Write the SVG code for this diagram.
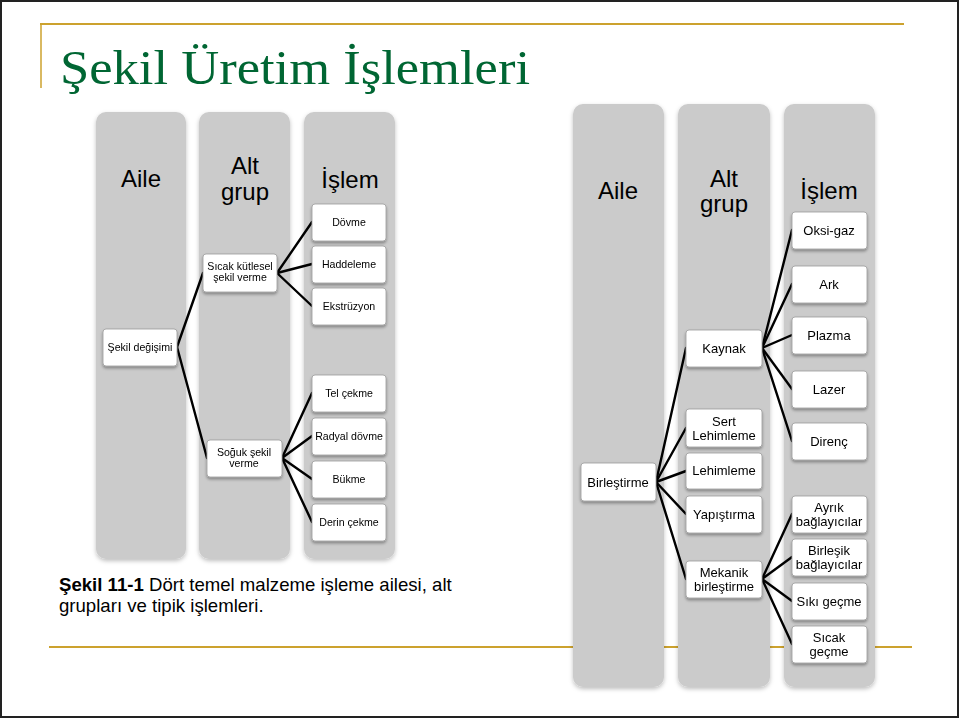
<svg xmlns="http://www.w3.org/2000/svg" width="960" height="719" viewBox="0 0 960 719">
<style>
.col{fill:#cbcbcb}
.nd{fill:#fff;stroke:#9a9a9a;stroke-width:0.8}
.hd{font-family:"Liberation Sans",Arial,sans-serif;font-size:24px;fill:#000;text-anchor:middle}
.s{font-family:"Liberation Sans",Arial,sans-serif;font-size:10.6px;fill:#000;text-anchor:middle}
.m{font-family:"Liberation Sans",Arial,sans-serif;font-size:13px;fill:#000;text-anchor:middle}
.gold{stroke:#cca22e;fill:none}
#connectors line{stroke:#000;stroke-width:2.4;stroke-linecap:round}
</style>
<defs>
<filter id="sh" x="-20%" y="-20%" width="140%" height="140%">
<feDropShadow dx="0" dy="2" stdDeviation="1.5" flood-color="#000" flood-opacity="0.35"/>
</filter>
<filter id="shc" x="-10%" y="-5%" width="120%" height="110%">
<feDropShadow dx="0" dy="2" stdDeviation="2" flood-color="#000" flood-opacity="0.25"/>
</filter>
</defs>
<rect x="0" y="0" width="960" height="719" fill="#fff"/>
<rect x="1" y="1" width="957" height="716" fill="none" stroke="#222" stroke-width="2"/>
<line class="gold" x1="40" y1="24" x2="904" y2="24" stroke-width="2.2"/>
<line class="gold" x1="41" y1="24" x2="41" y2="88" stroke-width="1.5"/>
<line class="gold" x1="49" y1="647" x2="912" y2="647" stroke-width="2.2"/>
<text x="60" y="84" font-family="'Liberation Serif','Times New Roman',serif" font-size="48" fill="#006633" textLength="470" lengthAdjust="spacingAndGlyphs">Şekil Üretim İşlemleri</text>

<g id="columns" filter="url(#shc)">
<rect class="col" x="96" y="112" width="90" height="447" rx="10"/>
<rect class="col" x="199" y="112" width="91" height="447" rx="10"/>
<rect class="col" x="304" y="112" width="91" height="447" rx="10"/>
<rect class="col" x="573" y="104" width="91" height="583" rx="10"/>
<rect class="col" x="678" y="104" width="92" height="583" rx="10"/>
<rect class="col" x="784" y="104" width="91" height="583" rx="10"/>
</g>
<g id="headers">
<text class="hd" x="141" y="187">Aile</text>
<text class="hd" x="245" y="174">Alt</text>
<text class="hd" x="245" y="200">grup</text>
<text class="hd" x="350" y="188">İşlem</text>
<text class="hd" x="618" y="199">Aile</text>
<text class="hd" x="724" y="187">Alt</text>
<text class="hd" x="724" y="212">grup</text>
<text class="hd" x="829" y="199">İşlem</text>
</g>

<g id="connectors">
<line x1="177" y1="347" x2="203" y2="273"/>
<line x1="177" y1="347" x2="207" y2="458"/>
<line x1="277" y1="273" x2="312" y2="222"/>
<line x1="277" y1="273" x2="312" y2="264"/>
<line x1="277" y1="273" x2="312" y2="306"/>
<line x1="282" y1="458" x2="312" y2="393"/>
<line x1="282" y1="458" x2="312" y2="436"/>
<line x1="282" y1="458" x2="312" y2="479"/>
<line x1="282" y1="458" x2="312" y2="522"/>
<line x1="656" y1="482" x2="686" y2="348"/>
<line x1="656" y1="482" x2="686" y2="428"/>
<line x1="656" y1="482" x2="686" y2="471"/>
<line x1="656" y1="482" x2="686" y2="514"/>
<line x1="656" y1="482" x2="686" y2="579"/>
<line x1="762" y1="348" x2="792" y2="230"/>
<line x1="762" y1="348" x2="792" y2="284"/>
<line x1="762" y1="348" x2="792" y2="335"/>
<line x1="762" y1="348" x2="792" y2="389"/>
<line x1="762" y1="348" x2="792" y2="441"/>
<line x1="762" y1="579" x2="792" y2="514"/>
<line x1="762" y1="579" x2="792" y2="557"/>
<line x1="762" y1="579" x2="792" y2="601"/>
<line x1="762" y1="579" x2="792" y2="644"/>
</g>

<g id="n-sekil-degisimi" filter="url(#sh)"><rect class="nd" x="103" y="329" width="74" height="37" rx="3"/><text class="s" x="140" y="351">Şekil değişimi</text></g>
<g id="n-sicak-kutlesel" filter="url(#sh)"><rect class="nd" x="203" y="254" width="74" height="38" rx="3"/><text class="s" x="240" y="270">Sıcak kütlesel</text><text class="s" x="240" y="281">şekil verme</text></g>
<g id="n-soguk" filter="url(#sh)"><rect class="nd" x="207" y="440" width="75" height="37" rx="3"/><text class="s" x="244" y="456">Soğuk şekil</text><text class="s" x="244" y="467">verme</text></g>
<g id="n-dovme" filter="url(#sh)"><rect class="nd" x="312" y="204" width="74" height="37" rx="3"/><text class="s" x="349" y="226">Dövme</text></g>
<g id="n-haddeleme" filter="url(#sh)"><rect class="nd" x="312" y="246" width="74" height="37" rx="3"/><text class="s" x="349" y="268">Haddeleme</text></g>
<g id="n-ekstruzyon" filter="url(#sh)"><rect class="nd" x="312" y="288" width="74" height="37" rx="3"/><text class="s" x="349" y="310">Ekstrüzyon</text></g>
<g id="n-tel-cekme" filter="url(#sh)"><rect class="nd" x="312" y="375" width="74" height="37" rx="3"/><text class="s" x="349" y="397">Tel çekme</text></g>
<g id="n-radyal-dovme" filter="url(#sh)"><rect class="nd" x="312" y="418" width="74" height="37" rx="3"/><text class="s" x="349" y="440">Radyal dövme</text></g>
<g id="n-bukme" filter="url(#sh)"><rect class="nd" x="312" y="461" width="74" height="37" rx="3"/><text class="s" x="349" y="483">Bükme</text></g>
<g id="n-derin-cekme" filter="url(#sh)"><rect class="nd" x="312" y="504" width="74" height="37" rx="3"/><text class="s" x="349" y="526">Derin çekme</text></g>

<g id="n-birlestirme" filter="url(#sh)"><rect class="nd" x="581" y="463" width="75" height="38" rx="3"/><text class="m" x="618" y="487">Birleştirme</text></g>
<g id="n-kaynak" filter="url(#sh)"><rect class="nd" x="686" y="330" width="76" height="37" rx="3"/><text class="m" x="724" y="353">Kaynak</text></g>
<g id="n-sert-lehimleme" filter="url(#sh)"><rect class="nd" x="686" y="409" width="76" height="38" rx="3"/><text class="m" x="724" y="426">Sert</text><text class="m" x="724" y="440">Lehimleme</text></g>
<g id="n-lehimleme" filter="url(#sh)"><rect class="nd" x="686" y="453" width="76" height="36" rx="3"/><text class="m" x="724" y="475">Lehimleme</text></g>
<g id="n-yapistirma" filter="url(#sh)"><rect class="nd" x="686" y="496" width="76" height="37" rx="3"/><text class="m" x="724" y="519">Yapıştırma</text></g>
<g id="n-mekanik" filter="url(#sh)"><rect class="nd" x="686" y="561" width="76" height="37" rx="3"/><text class="m" x="724" y="577">Mekanik</text><text class="m" x="724" y="591">birleştirme</text></g>
<g id="n-oksi-gaz" filter="url(#sh)"><rect class="nd" x="792" y="212" width="75" height="37" rx="3"/><text class="m" x="829" y="235">Oksi-gaz</text></g>
<g id="n-ark" filter="url(#sh)"><rect class="nd" x="792" y="266" width="75" height="37" rx="3"/><text class="m" x="829" y="289">Ark</text></g>
<g id="n-plazma" filter="url(#sh)"><rect class="nd" x="792" y="317" width="75" height="37" rx="3"/><text class="m" x="829" y="340">Plazma</text></g>
<g id="n-lazer" filter="url(#sh)"><rect class="nd" x="792" y="371" width="75" height="37" rx="3"/><text class="m" x="829" y="394">Lazer</text></g>
<g id="n-direnc" filter="url(#sh)"><rect class="nd" x="792" y="423" width="75" height="37" rx="3"/><text class="m" x="829" y="446">Direnç</text></g>
<g id="n-ayrik" filter="url(#sh)"><rect class="nd" x="792" y="496" width="75" height="37" rx="3"/><text class="m" x="829" y="512">Ayrık</text><text class="m" x="829" y="526">bağlayıcılar</text></g>
<g id="n-birlesik" filter="url(#sh)"><rect class="nd" x="792" y="539" width="75" height="37" rx="3"/><text class="m" x="829" y="555">Birleşik</text><text class="m" x="829" y="569">bağlayıcılar</text></g>
<g id="n-siki-gecme" filter="url(#sh)"><rect class="nd" x="792" y="583" width="75" height="37" rx="3"/><text class="m" x="829" y="606">Sıkı geçme</text></g>
<g id="n-sicak-gecme" filter="url(#sh)"><rect class="nd" x="792" y="626" width="75" height="37" rx="3"/><text class="m" x="829" y="642">Sıcak</text><text class="m" x="829" y="656">geçme</text></g>

<g id="caption" font-family="'Liberation Sans',Arial,sans-serif" font-size="18.6" fill="#000">
<text x="59" y="591"><tspan font-weight="bold">Şekil 11-1</tspan> Dört temel malzeme işleme ailesi, alt</text>
<text x="59" y="612">grupları ve tipik işlemleri.</text>
</g>
</svg>
